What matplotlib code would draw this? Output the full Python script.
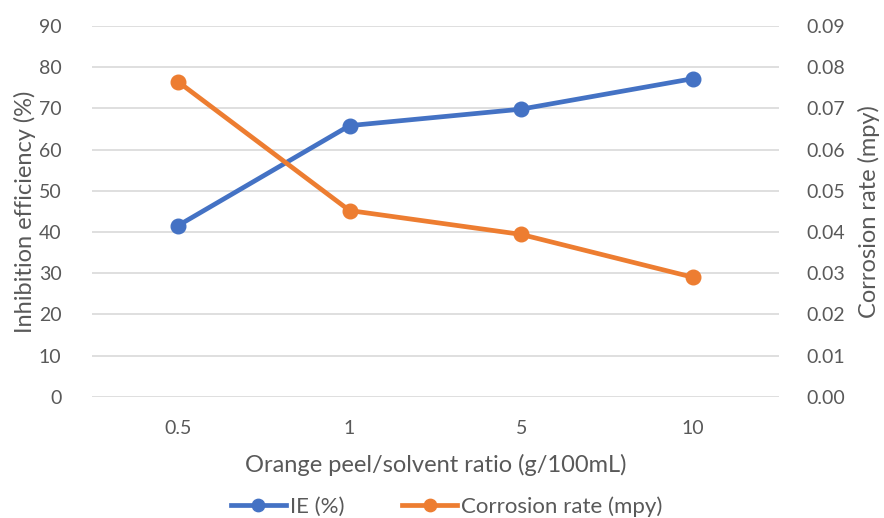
import matplotlib
matplotlib.use("Agg")
import matplotlib.pyplot as plt

categories = ["0.5", "1", "5", "10"]
ie_values = [41.5, 65.8, 69.8, 77.2]
cr_values = [0.0765, 0.0452, 0.0394, 0.0290]
left_ticks = [0, 10, 20, 30, 40, 50, 60, 70, 80, 90]
right_ticks = [0.00, 0.01, 0.02, 0.03, 0.04, 0.05, 0.06, 0.07, 0.08, 0.09]

plt.rcParams['font.family'] = ['Lato', 'DejaVu Sans']
TXT = '#595959'
BLUE = '#4472C4'
ORANGE = '#ED7D31'

fig = plt.figure(figsize=(8.84, 5.18), dpi=100)
ax = fig.add_axes([0.104, 0.234, 0.777, 0.716])
ax2 = ax.twinx()

x = list(range(len(categories)))
l1, = ax.plot(x, ie_values, color=BLUE, lw=3.4, marker='o', ms=10.5, label='IE (%)', zorder=3)
l2, = ax2.plot(x, cr_values, color=ORANGE, lw=3.4, marker='o', ms=10.5, label='Corrosion rate (mpy)', zorder=3)

ax.set_xlim(-0.5, len(categories) - 0.5)
ax.set_ylim(0, 90)
ax2.set_ylim(0, 0.09)
ax.set_yticks(left_ticks)
ax.set_yticklabels([str(t) for t in left_ticks])
ax2.set_yticks(right_ticks)
ax2.set_yticklabels([f"{t:.2f}" for t in right_ticks])
ax.set_xticks(x)
ax.set_xticklabels(categories)

ax.grid(axis='y', color='#D9D9D9', lw=1.2)
ax.set_axisbelow(True)
for a in (ax, ax2):
    for s in a.spines.values():
        s.set_visible(False)
    a.tick_params(length=0, labelsize=14, labelcolor=TXT)
ax.tick_params(axis='y', pad=22)
ax2.tick_params(axis='y', pad=20)
ax.tick_params(axis='x', pad=17)

ax.set_ylabel('Inhibition efficiency (%)', fontsize=17, color=TXT, labelpad=2)
ax2.set_ylabel('Corrosion rate (mpy)', fontsize=17, color=TXT, labelpad=9)
ax.set_xlabel('Orange peel/solvent ratio (g/100mL)', fontsize=17, color=TXT, labelpad=12)

fig.legend(handles=[l1, l2], loc='center', bbox_to_anchor=(0.505, 0.022), ncol=2,
           frameon=False, fontsize=16, labelcolor=TXT, handlelength=2.5,
           columnspacing=2.6, handletextpad=0.15, markerscale=0.85)

fig.savefig('out.png', dpi=100)
